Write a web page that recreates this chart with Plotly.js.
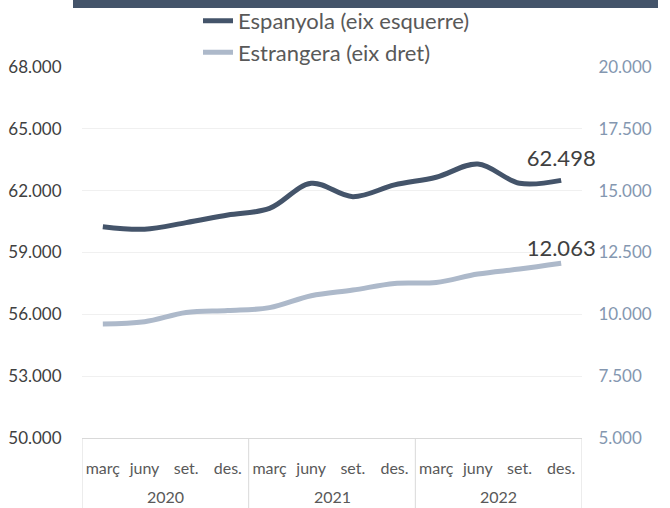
<!DOCTYPE html>
<html><head><meta charset="utf-8">
<script src="https://cdn.plot.ly/plotly-3.0.1.min.js"></script>
<style>body{margin:0;padding:0;background:#fff}</style>
</head><body>
<div id="chart" style="width:670px;height:508px"></div>
<script>
const years = ['2020','2021','2022'];
const months = ['març','juny','set.','des.'];
const categories = [];
years.forEach(y => months.forEach(m => categories.push(y + ' ' + m)));
const monthLabels = categories.map(c => c.split(' ')[1]);
const espanyola = [60250, 60130, 60450, 60820, 61140, 62360, 61710, 62280, 62650, 63290, 62360, 62498];
const estrangera = [9610, 9700, 10070, 10150, 10270, 10750, 10980, 11250, 11290, 11630, 11830, 12063];
const last = espanyola.length - 1;
const fmt = v => v.toLocaleString('de-DE');
const espLabels = espanyola.map((v,i)=> i===last ? fmt(v) : '');
const estLabels = estrangera.map((v,i)=> i===last ? fmt(v) : '');

const FONT = "Lato, sans-serif";
const nM = months.length;

const traces = [
  {x: categories, y: espanyola, name:'Espanyola (eix esquerre)', type:'scatter', mode:'lines+markers+text',
   line:{color:'#44546a', width:5, shape:'spline', smoothing:1},
   marker:{size: espanyola.map((v,i)=> i===last ? 13 : 0), color:'rgba(0,0,0,0)', line:{width:0}},
   text: espLabels, textposition:'top center',
   textfont:{size:22, color:'#404040', family:FONT}, legendgroup:'a', cliponaxis:false},
  {x: categories, y: estrangera, name:'Estrangera (eix dret)', type:'scatter', mode:'lines+markers+text', yaxis:'y2',
   line:{color:'#adb9ca', width:5, shape:'spline', smoothing:1},
   marker:{size: estrangera.map((v,i)=> i===last ? 1 : 0), color:'rgba(0,0,0,0)', line:{width:0}},
   text: estLabels, textposition:'top center',
   textfont:{size:22, color:'#404040', family:FONT}, legendgroup:'b', cliponaxis:false}
];

const shapes = [
  {type:'rect', xref:'paper', yref:'paper', x0:-0.018, x1:1.152, y0:1.159, y1:1.19, fillcolor:'#44546a', line:{width:0}}
];
for (let g = 0; g <= years.length; g++) {
  shapes.push({type:'line', xref:'x', yref:'paper', x0: g*nM - 0.5, x1: g*nM - 0.5, y0: 0, y1: -0.19,
               line:{color:'#d9d9d9', width:1}});
}
const annotations = years.map((y, g) => ({
  text: y, xref:'x', yref:'paper', x: g*nM + (nM-1)/2, y: -0.159, yanchor:'middle', xanchor:'center',
  showarrow:false, font:{size:16, color:'#595959', family:FONT}
}));

const layout = {
  width:670, height:508,
  margin:{l:82, r:88, t:67, b:70, autoexpand:false},
  paper_bgcolor:'#fff', plot_bgcolor:'#fff',
  font:{family:FONT, color:'#595959', size:16},
  separators:',.',
  showlegend:true,
  legend:{x:0.232, y:1.181, xanchor:'left', yanchor:'top',
          traceorder:'grouped', tracegroupgap:0,
          font:{size:22, color:'#595959', family:FONT}, bgcolor:'rgba(0,0,0,0)'},
  xaxis:{type:'category', range:[-0.5, categories.length - 0.5], showgrid:false, showline:true,
         linecolor:'#d9d9d9', linewidth:1, tickvals: categories, ticktext: monthLabels,
         tickfont:{size:16, color:'#595959'}, ticks:'', ticklabelstandoff:16, tickangle:0, fixedrange:true},
  yaxis:{range:[50000,68000], dtick:3000, tick0:50000, tickformat:',.0f', showgrid:true, gridcolor:'#f0f0f0',
         zeroline:false, showline:false, tickfont:{size:17, color:'#404040'},
         ticks:'outside', ticklen:16, tickcolor:'rgba(0,0,0,0)'},
  yaxis2:{range:[5000,20000], dtick:2500, tick0:5000, tickformat:',.0f', overlaying:'y', side:'right',
          showgrid:false, zeroline:false, showline:false, tickfont:{size:17, color:'#8497b0'},
          ticks:'outside', ticklen:12, tickcolor:'rgba(0,0,0,0)'},
  shapes: shapes,
  annotations: annotations
};
Plotly.newPlot('chart', traces, layout, {displayModeBar:false, staticPlot:true});
</script>
</body></html>
